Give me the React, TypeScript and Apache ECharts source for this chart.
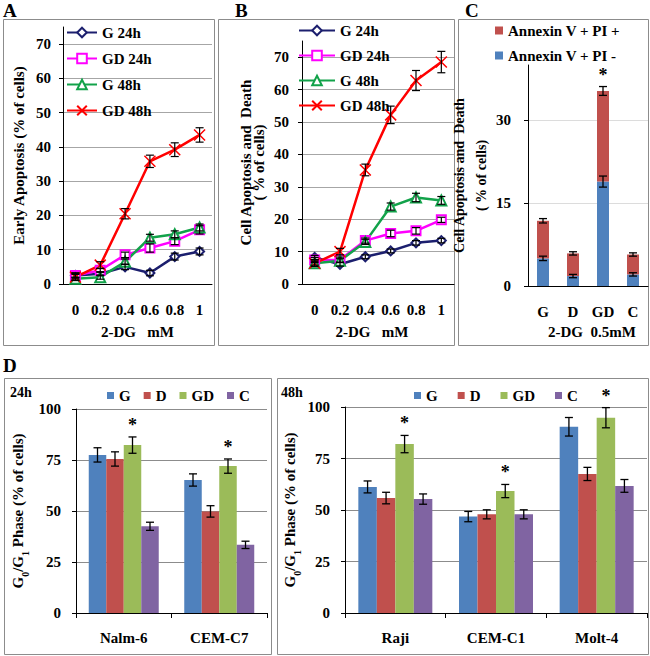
import React, { useEffect, useRef } from 'react';
import * as echarts from 'echarts';

// ---------- data ----------
const doses = ['0', '0.2', '0.4', '0.6', '0.8', '1'];
const lineNames = ['G 24h', 'GD 24h', 'G 48h', 'GD 48h'];

// Panel A: early apoptosis
const earlyG24 = [2.5, 3.0, 5.0, 3.2, 8.0, 9.5];
const earlyGD24 = [2.5, 4.0, 8.5, 10.5, 12.5, 15.8];
const earlyG48 = [1.5, 2.0, 6.5, 13.5, 14.5, 16.5];
const earlyGD48 = [2.0, 5.5, 20.5, 35.8, 39.2, 43.5];
const earlyG24Err = [0.8, 0.6, 0.8, 0.8, 1.0, 1.0];
const earlyGD24Err = [0.6, 0.6, 0.8, 1.2, 1.0, 1.2];
const earlyG48Err = [0.5, 0.6, 0.8, 1.0, 1.0, 1.0];
const earlyGD48Err = [0.8, 1.0, 1.5, 1.8, 2.0, 2.1];

// Panel B: apoptosis and death
const deathG24 = [8.2, 6.1, 8.4, 10.2, 12.7, 13.4];
const deathGD24 = [7.4, 7.5, 13.4, 15.6, 16.4, 19.8];
const deathG48 = [6.4, 7.2, 13.0, 23.9, 26.7, 25.8];
const deathGD48 = [6.4, 10.0, 35.2, 52.2, 62.8, 68.5];
const deathG24Err = [0.6, 0.6, 0.6, 0.6, 0.7, 0.7];
const deathGD24Err = [0.8, 0.8, 0.8, 1.0, 1.0, 0.8];
const deathG48Err = [0.6, 0.6, 0.8, 1.1, 1.3, 1.2];
const deathGD48Err = [1.0, 1.0, 1.8, 2.7, 3.1, 3.3];

// Panel C: stacked annexin
const cCats = ['G', 'D', 'GD', 'C'];
const annexinNeg = [5.0, 1.8, 18.9, 2.1]; // Annexin V + PI -
const annexinPos = [6.8, 4.1, 16.4, 3.6]; // Annexin V + PI +
const annexinNegErr = [0.4, 0.3, 1.0, 0.3];
const annexinTotErr = [0.4, 0.3, 0.8, 0.3];
const cStars = [0, 0, 1, 0];

// Panel D: G0/G1 phase
const barNames = ['G', 'D', 'GD', 'C'];
const d24Cats = ['Nalm-6', 'CEM-C7'];
const d24G = [77.5, 65.2];
const d24D = [75.5, 49.8];
const d24GD = [82.3, 72.0];
const d24C = [42.5, 33.4];
const d24GErr = [3.5, 3.0];
const d24DErr = [3.5, 2.8];
const d24GDErr = [4.0, 3.5];
const d24CErr = [2.0, 1.8];
const d24Stars = [0, 0, 1, 0];

const d48Cats = ['Raji', 'CEM-C1', 'Molt-4'];
const d48G = [61.2, 46.8, 90.4];
const d48D = [55.8, 47.9, 67.5];
const d48GD = [82.0, 59.2, 94.8];
const d48C = [55.3, 47.9, 61.7];
const d48GErr = [2.9, 2.5, 4.5];
const d48DErr = [2.8, 2.2, 3.2];
const d48GDErr = [4.2, 3.2, 4.9];
const d48CErr = [2.5, 2.2, 3.1];
const d48Stars = [0, 0, 1, 0];

// ---------- styles ----------
const FONT = 'Liberation Serif';
const txt = (size: number) => ({ fontFamily: FONT, fontWeight: 'bold' as const, fontSize: size, color: '#000' });
const lineColors = ['#1c1f6e', '#ff00ff', '#12a24a', '#ff0000'];
const lineSymbols = ['emptyDiamond', 'emptyRect', 'emptyTriangle', 'path://M0 0L10 10M10 0L0 10'];
const lineSymbolSizes = [9, 9, 10, 11];
const barColors = ['#4f81bd', '#c0504d', '#9bbb59', '#8064a2'];

function lineSeries(idx: number, data: number[], k: number) {
  const color = lineColors[k];
  return {
    type: 'line', name: lineNames[k], xAxisIndex: idx, yAxisIndex: idx, data,
    color, symbol: lineSymbols[k], symbolSize: lineSymbolSizes[k], showAllSymbol: true,
    lineStyle: { width: 2.5, color },
    itemStyle: { color, borderColor: color, borderWidth: 1.5 },
    z: 3,
  };
}

function lineErr(idx: number, vals: number[], errs: number[]) {
  return {
    type: 'custom', xAxisIndex: idx, yAxisIndex: idx, z: 10, silent: true,
    encode: { x: 0, y: 1 },
    data: vals.map((v, i) => [i, v, errs[i]]),
    renderItem: (params: any, api: any) => {
      const x = api.value(0), v = api.value(1), e = api.value(2);
      const t = api.coord([x, v + e]);
      const b = api.coord([x, v - e]);
      const w = 4;
      const st = { stroke: '#000', lineWidth: 1.2 };
      return {
        type: 'group', children: [
          { type: 'line', shape: { x1: t[0], y1: t[1], x2: b[0], y2: b[1] }, style: st },
          { type: 'line', shape: { x1: t[0] - w, y1: t[1], x2: t[0] + w, y2: t[1] }, style: st },
          { type: 'line', shape: { x1: b[0] - w, y1: b[1], x2: b[0] + w, y2: b[1] }, style: st },
        ],
      };
    },
  };
}

function starText(x: number, y: number) {
  return { type: 'text', x, y, style: { text: '*', fill: '#000', font: `bold 18px ${FONT}`, align: 'center', verticalAlign: 'middle' } };
}

function barErr(idx: number, groups: number[][], errs: number[][], stars: number[], barW: number) {
  const data: number[][] = [];
  groups.forEach((vals, k) => vals.forEach((v, i) => data.push([i, k, v, errs[k][i], stars[k]])));
  return {
    type: 'custom', xAxisIndex: idx, yAxisIndex: idx, z: 10, silent: true,
    encode: { x: 0, y: 2 },
    data,
    renderItem: (params: any, api: any) => {
      const cat = api.value(0), k = api.value(1), v = api.value(2), e = api.value(3), star = api.value(4);
      const c = api.coord([cat, v]);
      const x = c[0] + (k - 1.5) * barW;
      const yT = api.coord([cat, v + e])[1];
      const yB = api.coord([cat, v - e])[1];
      const w = 4;
      const st = { stroke: '#000', lineWidth: 1.3 };
      const children: any[] = [
        { type: 'line', shape: { x1: x, y1: yT, x2: x, y2: yB }, style: st },
        { type: 'line', shape: { x1: x - w, y1: yT, x2: x + w, y2: yT }, style: st },
        { type: 'line', shape: { x1: x - w, y1: yB, x2: x + w, y2: yB }, style: st },
      ];
      if (star) children.push(starText(x, yT - 12));
      return { type: 'group', children };
    },
  };
}

function stackErr(idx: number, tops: number[], errs: number[], stars: number[]) {
  return {
    type: 'custom', xAxisIndex: idx, yAxisIndex: idx, z: 10, silent: true,
    encode: { x: 0, y: 1 },
    data: tops.map((v, i) => [i, v, errs[i], stars[i]]),
    renderItem: (params: any, api: any) => {
      const cat = api.value(0), v = api.value(1), e = api.value(2), star = api.value(3);
      const t = api.coord([cat, v + e]);
      const b = api.coord([cat, v - e]);
      const w = 4;
      const st = { stroke: '#000', lineWidth: 1.3 };
      const children: any[] = [
        { type: 'line', shape: { x1: t[0], y1: t[1], x2: b[0], y2: b[1] }, style: st },
        { type: 'line', shape: { x1: t[0] - w, y1: t[1], x2: t[0] + w, y2: t[1] }, style: st },
        { type: 'line', shape: { x1: b[0] - w, y1: b[1], x2: b[0] + w, y2: b[1] }, style: st },
      ];
      if (star) children.push(starText(t[0], t[1] - 12));
      return { type: 'group', children };
    },
  };
}

function barSeries(idx: number, k: number, data: number[], barW: number) {
  return {
    type: 'bar', name: barNames[k], xAxisIndex: idx, yAxisIndex: idx, data,
    barWidth: barW, barGap: '0%', itemStyle: { color: barColors[k] }, z: 2,
  };
}

const axisLineBlack = { show: true, lineStyle: { color: '#000', width: 1 } };

function lineXAxis(idx: number, nameGap: number, padding: number[]) {
  return {
    gridIndex: idx, type: 'category', data: doses, boundaryGap: true,
    axisLine: axisLineBlack, axisTick: { show: false },
    axisLabel: { ...txt(15), margin: 18, interval: 0 },
    name: '2-DG   mM', nameLocation: 'middle', nameGap,
    nameTextStyle: { ...txt(15), padding },
  };
}

function valueYAxis(idx: number, max: number, interval: number, name: string, nameGap: number, nameStyle: any, gridColor: string, labelMargin: number, showMax: boolean) {
  return {
    gridIndex: idx, type: 'value', min: 0, max, interval,
    axisLine: axisLineBlack,
    axisTick: { show: true, length: 4, lineStyle: { color: '#000' } },
    axisLabel: { ...txt(15), margin: labelMargin, showMaxLabel: showMax },
    splitLine: { show: true, showMaxLine: showMax, lineStyle: { color: gridColor, width: 1 } },
    name, nameLocation: 'middle', nameGap, nameRotate: 90,
    nameTextStyle: nameStyle,
  };
}

const dNameRich = {
  ...txt(15), lineHeight: 18,
  rich: {
    t: { ...txt(15), lineHeight: 18 },
    s: { ...txt(10), lineHeight: 18, verticalAlign: 'bottom', padding: [0, 0, -3, 0] },
  },
};
const dName = '{t|G}{s|0}{t|/G}{s|1}{t| Phase (% of cells)}';

function buildOption() {
  const d24Groups = [d24G, d24D, d24GD, d24C];
  const d24Errs = [d24GErr, d24DErr, d24GDErr, d24CErr];
  const d48Groups = [d48G, d48D, d48GD, d48C];
  const d48Errs = [d48GErr, d48DErr, d48GDErr, d48CErr];
  const annexinTot = annexinNeg.map((v, i) => v + annexinPos[i]);
  const bw24 = 17.5;
  const bw48 = 18.5;

  const box = (x: number, y: number, w: number, h: number) => ({
    type: 'rect', shape: { x, y, width: w, height: h }, silent: true,
    style: { fill: 'none', stroke: '#8c8c8c', lineWidth: 1 },
  });
  const label = (text: string, x: number, y: number, size: number) => ({
    type: 'text', x, y, silent: true,
    style: { text, fill: '#000', font: `bold ${size}px ${FONT}` },
  });

  return {
    animation: false,
    backgroundColor: '#fff',
    textStyle: { fontFamily: FONT },
    grid: [
      { left: 63, top: 27, width: 149, height: 257 },
      { left: 302, top: 41, width: 152, height: 243 },
      { left: 528, top: 65, width: 120, height: 221 },
      { left: 76, top: 409, width: 191, height: 204 },
      { left: 345, top: 407, width: 302, height: 206 },
    ],
    legend: [
      {
        data: lineNames, orient: 'vertical', left: 66, top: 25, padding: 0,
        itemWidth: 30, itemHeight: 12, itemGap: 11, textStyle: txt(15),
      },
      {
        data: lineNames, orient: 'vertical', left: 298, top: 23, padding: 0,
        itemWidth: 36, itemHeight: 12, itemGap: 10, textStyle: txt(15),
      },
      {
        data: ['Annexin V + PI +', 'Annexin V + PI -'], orient: 'vertical', left: 495, top: 23, padding: 0,
        icon: 'rect', itemWidth: 8, itemHeight: 8, itemGap: 10, textStyle: txt(15),
      },
      {
        data: barNames, orient: 'horizontal', left: 107, top: 388, padding: 0,
        icon: 'rect', itemWidth: 7, itemHeight: 7, itemGap: 13, textStyle: txt(15),
      },
      {
        data: barNames, orient: 'horizontal', left: 414, top: 388, padding: 0,
        icon: 'rect', itemWidth: 7, itemHeight: 7, itemGap: 20, textStyle: txt(15),
      },
    ],
    xAxis: [
      lineXAxis(0, 40, [0, 0, 0, 0]),
      lineXAxis(1, 40, [0, 12, 0, 0]),
      {
        gridIndex: 2, type: 'category', data: cCats, boundaryGap: true,
        axisLine: axisLineBlack, axisTick: { show: false },
        axisLabel: { ...txt(15), margin: 18, interval: 0 },
        name: '2-DG  0.5mM', nameLocation: 'middle', nameGap: 38,
        nameTextStyle: { ...txt(15), padding: [0, 0, 0, 8] },
      },
      {
        gridIndex: 3, type: 'category', data: d24Cats, boundaryGap: true,
        axisLine: axisLineBlack, axisTick: { show: true, length: 5, lineStyle: { color: '#000' } },
        axisLabel: { ...txt(15), margin: 17, interval: 0 },
      },
      {
        gridIndex: 4, type: 'category', data: d48Cats, boundaryGap: true,
        axisLine: axisLineBlack, axisTick: { show: true, length: 5, lineStyle: { color: '#000' } },
        axisLabel: { ...txt(15), margin: 17, interval: 0 },
      },
    ],
    yAxis: [
      valueYAxis(0, 75, 10, 'Early Apoptosis (% of cells)', 37, txt(15), '#a6a6a6', 12, false),
      valueYAxis(1, 75, 10, 'Cell Apoptosis and  Death\n( % of cells)', 37, { ...txt(15), lineHeight: 13 }, '#a6a6a6', 13, false),
      valueYAxis(2, 40, 15, 'Cell Apoptosis and  Death\n( % of cells)', 24, { ...txt(14), lineHeight: 22 }, '#dcdcdc', 17, false),
      valueYAxis(3, 100, 25, dName, 49, dNameRich, '#8c8c8c', 15, true),
      valueYAxis(4, 100, 25, dName, 46, dNameRich, '#8c8c8c', 15, true),
    ],
    series: [
      lineSeries(0, earlyG24, 0),
      lineSeries(0, earlyGD24, 1),
      lineSeries(0, earlyG48, 2),
      lineSeries(0, earlyGD48, 3),
      lineErr(0, earlyG24, earlyG24Err),
      lineErr(0, earlyGD24, earlyGD24Err),
      lineErr(0, earlyG48, earlyG48Err),
      lineErr(0, earlyGD48, earlyGD48Err),

      lineSeries(1, deathG24, 0),
      lineSeries(1, deathGD24, 1),
      lineSeries(1, deathG48, 2),
      lineSeries(1, deathGD48, 3),
      lineErr(1, deathG24, deathG24Err),
      lineErr(1, deathGD24, deathGD24Err),
      lineErr(1, deathG48, deathG48Err),
      lineErr(1, deathGD48, deathGD48Err),

      {
        type: 'bar', name: 'Annexin V + PI -', xAxisIndex: 2, yAxisIndex: 2, stack: 'ann',
        data: annexinNeg, barWidth: 12, itemStyle: { color: barColors[0] },
      },
      {
        type: 'bar', name: 'Annexin V + PI +', xAxisIndex: 2, yAxisIndex: 2, stack: 'ann',
        data: annexinPos, barWidth: 12, itemStyle: { color: barColors[1] },
      },
      stackErr(2, annexinNeg, annexinNegErr, [0, 0, 0, 0]),
      stackErr(2, annexinTot, annexinTotErr, cStars),

      ...d24Groups.map((g, k) => barSeries(3, k, g, bw24)),
      barErr(3, d24Groups, d24Errs, d24Stars, bw24),
      ...d48Groups.map((g, k) => barSeries(4, k, g, bw48)),
      barErr(4, d48Groups, d48Errs, d48Stars, bw48),
    ],
    graphic: [
      box(3.5, 19.5, 211, 326),
      box(218.5, 19.5, 236, 326),
      box(458.5, 19.5, 190, 326),
      box(4.5, 378.5, 267, 276),
      box(277.5, 378.5, 371, 276),
      label('A', 3, 1, 19),
      label('B', 235, 1, 19),
      label('C', 465, 1, 19),
      label('D', 3, 356, 19),
      label('24h', 10, 385, 14),
      label('48h', 281, 385, 14),
    ],
  };
}

export default function App() {
  const ref = useRef<HTMLDivElement>(null);
  useEffect(() => {
    if (!ref.current) return;
    const chart = echarts.init(ref.current, undefined, { renderer: 'svg' });
    chart.setOption(buildOption() as any);
    return () => chart.dispose();
  }, []);
  return (
    <div
      ref={ref}
      style={{ position: 'fixed', left: 0, top: 0, width: 650, height: 656, background: '#fff' }}
    />
  );
}
